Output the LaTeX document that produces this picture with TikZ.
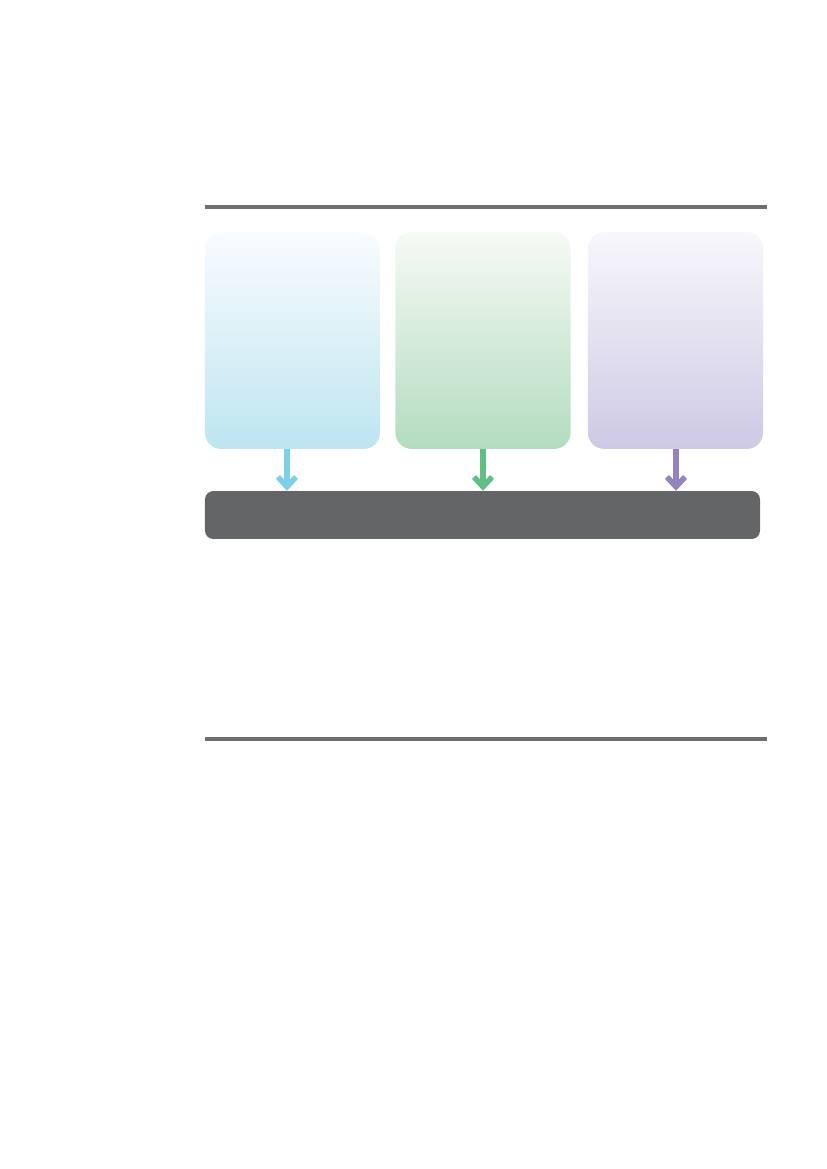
\documentclass[tikz,border=0pt]{standalone}
\usepackage{tikz}
\usetikzlibrary{arrows.meta,positioning}
\definecolor{rulegray}{HTML}{6D6E70}
\definecolor{bargray}{HTML}{646567}
\definecolor{skyline}{HTML}{7ECFEA}
\definecolor{skytop}{HTML}{F9FCFE}
\definecolor{skybot}{HTML}{BEE5F1}
\definecolor{leafline}{HTML}{63BE86}
\definecolor{leaftop}{HTML}{F6FAF5}
\definecolor{leafbot}{HTML}{B2DCBF}
\definecolor{lilacline}{HTML}{9384C0}
\definecolor{lilactop}{HTML}{F8F7FB}
\definecolor{lilacbot}{HTML}{CEC9E5}
\tikzset{
	panel/.style={rounded corners=11.5pt, minimum width=126pt, minimum height=156pt, inner sep=0pt},
	feed/.style={line width=4pt, -{Straight Barb[length=7pt, width=13pt]}},
	rule/.style={rulegray, line width=2.6pt}
}

\begin{document}
\begin{tikzpicture}[x=0.7198pt, y=-0.7198pt]
			\useasboundingbox (0,0) rectangle (827,1169);
			\draw[rule] (205,207) -- (767,207);
			\draw[rule] (205,739) -- (767,739);
			\node[panel, top color=skytop, bottom color=skybot] (sky) at (292.5,340.5) {};
			\node[panel, top color=leaftop, bottom color=leafbot] (leaf) at (483,340.5) {};
			\node[panel, top color=lilactop, bottom color=lilacbot] (lilac) at (675.5,340.5) {};
			\node[fill=bargray, rounded corners=6pt, minimum width=399.5pt, minimum height=34.5pt, inner sep=0pt] (base) at (482.5,515) {};
			\draw[feed, skyline] (sky.south -| 287,0) -- (base.north -| 287,0);
			\draw[feed, leafline] (leaf.south) -- (base.north -| leaf.south);
			\draw[feed, lilacline] (lilac.south -| 676,0) -- (base.north -| 676,0);
		\end{tikzpicture}
\end{document}
